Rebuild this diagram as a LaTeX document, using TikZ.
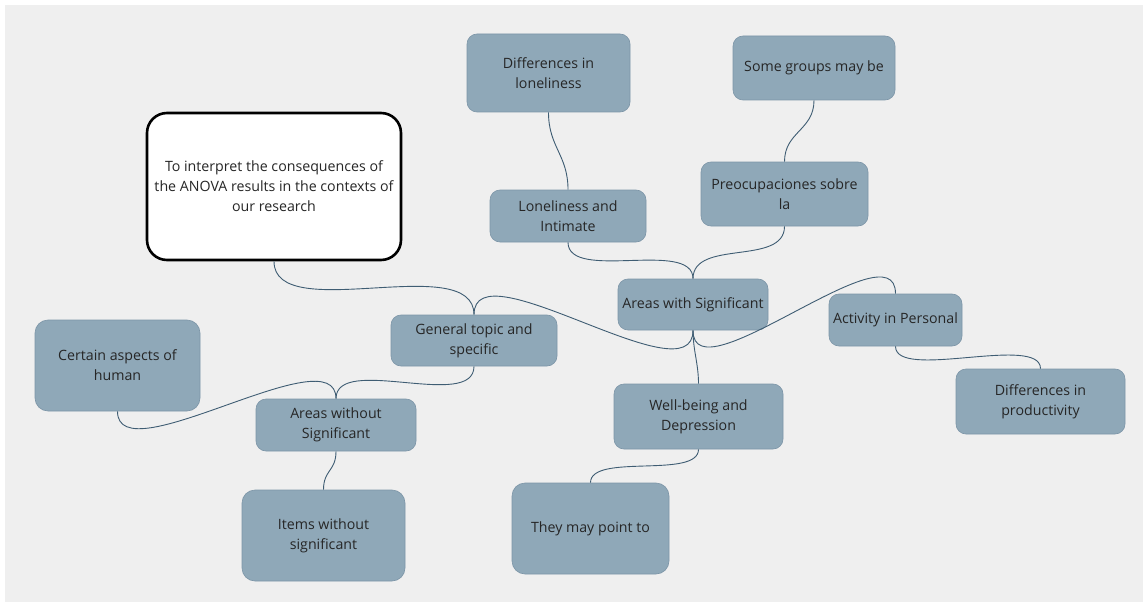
\documentclass[tikz,border=0pt]{standalone}
\usepackage{fontspec}
\setmainfont{Open Sans}
\definecolor{paper}{HTML}{EFEFEF}
\definecolor{boxblue}{HTML}{8FA8B8}
\definecolor{boxedge}{HTML}{7C95A7}
\definecolor{linkblue}{HTML}{3F5D73}
\definecolor{ink}{HTML}{262626}
\tikzset{
  topic/.style={draw=boxedge,fill=boxblue,line width=.6pt,rounded corners=10pt,
    align=center,text=ink,inner sep=0pt,font=\fontsize{14.2}{20}\selectfont},
  goal/.style={topic,draw=black,fill=white,line width=2.6pt,rounded corners=20pt},
  link/.style={draw=linkblue,line width=.9pt},
  dn/.style={out=-90,in=90,distance=#1},
  upw/.style={out=90,in=-90,distance=#1}
}

\begin{document}
\begin{tikzpicture}[x=1pt,y=1pt]
\useasboundingbox (0,0) rectangle (1143,-607);
\fill[paper] (5,-5) rectangle (1143,-602);
% boxes
\node[goal,minimum width=254,minimum height=147] (goal) at (274,-186.5) {To interpret the consequences of\\the ANOVA results in the contexts of\\our research};
\node[topic,minimum width=163,minimum height=78] (diffLon) at (548.5,-73) {Differences in\\loneliness};
\node[topic,minimum width=162,minimum height=64] (groups) at (814,-68) {Some groups may be};
\node[topic,minimum width=156,minimum height=52] (lonely) at (568,-216) {Loneliness and\\Intimate};
\node[topic,minimum width=167,minimum height=64] (preoc) at (784.5,-194) {Preocupaciones sobre\\la};
\node[topic,minimum width=150,minimum height=51] (withSig) at (693,-304.5) {Areas with Significant};
\node[topic,minimum width=166,minimum height=51] (general) at (474,-340.5) {General topic and\\specific};
\node[topic,minimum width=133,minimum height=52] (activity) at (895.5,-320) {Activity in Personal};
\node[topic,minimum width=165,minimum height=91,rounded corners=13pt] (certain) at (117.5,-365.5) {Certain aspects of\\human};
\node[topic,minimum width=160,minimum height=52] (noSig) at (336,-425) {Areas without\\Significant};
\node[topic,minimum width=169,minimum height=65] (wellbeing) at (698.5,-416.5) {Well-being and\\Depression};
\node[topic,minimum width=169,minimum height=65] (diffProd) at (1040.5,-401.5) {Differences in\\productivity};
\node[topic,minimum width=163,minimum height=91,rounded corners=13pt] (items) at (323.5,-535.5) {Items without\\significant};
\node[topic,minimum width=157,minimum height=91,rounded corners=13pt] (point) at (590.5,-528.5) {They may point to};
% connectors
\draw[link] (goal.south) to[dn=65] (general.north);
\draw[link] (general.north) to[upw=70] (withSig.south);
\draw[link] (withSig.south) to[dn=70] (activity.north);
\draw[link] (withSig.south) to[dn=20] (wellbeing.north);
\draw[link] (withSig.north) to[upw=40] (lonely.south);
\draw[link] (withSig.north) to[upw=40] (preoc.south);
\draw[link] (lonely.north) to[upw=35] (diffLon.south);
\draw[link] (preoc.north) to[upw=30] (groups.south);
\draw[link] (activity.south) to[dn=35] (diffProd.north);
\draw[link] (general.south) to[dn=45] (noSig.north);
\draw[link] (noSig.north) to[upw=65] (certain.south);
\draw[link] (noSig.south) to[dn=20] (items.north);
\draw[link] (wellbeing.south) to[dn=30] (point.north);
\end{tikzpicture}
\end{document}
